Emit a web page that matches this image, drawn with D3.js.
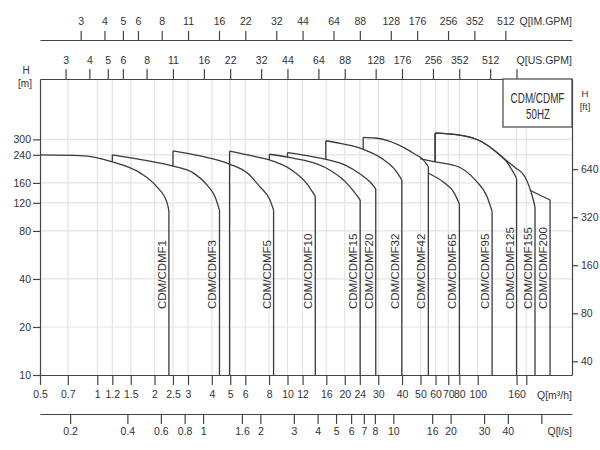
<!DOCTYPE html>
<html>
<head>
<meta charset="utf-8">
<script src="https://cdn.jsdelivr.net/npm/d3@7"></script>
<style>
  body { margin: 0; background: #fff; }
  text { fill: #333; }
</style>
</head>
<body>
<svg id="chart" width="600" height="450"></svg>
<script>
// tick values per axis
const qTicks = [0.5, 0.7, 1, 1.2, 1.5, 2, 2.5, 3, 4, 5, 6, 8, 10, 12, 16, 20, 24, 30, 40, 50, 60, 70, 80, 100, 160, 180];
const qBlank = [180];
const lsTicks = [0.2, 0.4, 0.6, 0.8, 1, 1.6, 2, 3, 4, 5, 6, 7, 8, 10, 16, 20, 30, 40, 60];
const lsBlank = [60];
const gpmTicks = [3, 4, 5, 6, 8, 11, 16, 22, 32, 44, 64, 88, 128, 176, 256, 352, 512];
const usGpmBlank = [704];
const hTicks = [10, 20, 40, 80, 120, 160, 240, 300];
const ftTicks = [40, 80, 160, 320, 640];

// pump ranges: [Q m3/h, H m] along the top curve
const pumps = ["CDM/CDMF1", "CDM/CDMF3", "CDM/CDMF5", "CDM/CDMF10", "CDM/CDMF15", "CDM/CDMF20",
  "CDM/CDMF32", "CDM/CDMF42", "CDM/CDMF65", "CDM/CDMF95", "CDM/CDMF125", "CDM/CDMF155", "CDM/CDMF200"];
const curves = [
  [[0.5, 240], [0.81, 237], [1.2, 217], [1.68, 185], [2.06, 151], [2.33, 120], [2.38, 107]],
  [[1.2, 240], [1.7, 224], [2.5, 204], [3.19, 185], [3.78, 155], [4.16, 131], [4.39, 108]],
  [[2.5, 254], [3.47, 236], [4.96, 210], [6.13, 185], [7.17, 151], [8.09, 125], [8.45, 108]],
  [[4.96, 253], [6.36, 238], [8.03, 223], [10.5, 193], [12.6, 159], [14.0, 132]],
  [[8.03, 242], [10.0, 232], [15.8, 200], [20.1, 163], [23.1, 134], [24.1, 125]],
  [[10.0, 248], [12.4, 238], [15.9, 225], [20.1, 207], [24.1, 182], [27.2, 162], [29.1, 147]],
  [[15.9, 294], [18.9, 283], [22.7, 270], [25.0, 260], [31.3, 228], [36.8, 193], [39.9, 167]],
  [[25.0, 309], [28.9, 306], [33.9, 294], [43.2, 257], [46.8, 242], [50.8, 228], [55.0, 202]],
  [[55.0, 184], [67.3, 159], [74.5, 141], [80.1, 118]],
  [[49.8, 227], [59.7, 217], [79.1, 202], [96.9, 167], [112, 131], [119, 106]],
  [[59.7, 328], [79.1, 320], [105, 290], [128, 245], [142, 217], [160, 171]],
  [[59.7, 328], [79.1, 320], [105, 290], [128, 245], [142, 220], [157, 200], [177, 175], [196, 125], [200, 113]],
  [[188, 144], [240, 125]]
];
// where the left edge of each range stops (H m)
const stepLow = [240, 217, 204, 10, 223, 232, 226, 260, 184, 227, 217, 217, 144];

const FONT = "'Liberation Sans Narrow','Arial Narrow','Liberation Sans',Arial,sans-serif";
const INK = "#444";

const svg = d3.select("#chart");
const pLeft = 40, pRight = 572, pTop = 79, pBottom = 375;

const x = d3.scaleLog().domain([0.5, 313]).range([pLeft, pRight]);
const y = d3.scaleLog().domain([10, 717]).range([pBottom, pTop]);
const xUS = d3.scaleLog().domain(x.domain().map(q => q * 4.4029)).range(x.range());
const xIM = d3.scaleLog().domain(x.domain().map(q => q * 3.6662)).range(x.range());
const xLS = d3.scaleLog().domain(x.domain().map(q => q / 3.6)).range(x.range());
const yFt = d3.scaleLog().domain(y.domain().map(h => h * 3.2808)).range(y.range());

svg.append("rect").attr("width", 600).attr("height", 450).attr("fill", "#fff");

// grid
svg.append("g").selectAll("line").data(qTicks.slice(1)).join("line")
  .attr("x1", d => x(d)).attr("x2", d => x(d))
  .attr("y1", pTop).attr("y2", pBottom)
  .attr("stroke", "#e4e4e4").attr("stroke-width", 1.2);
svg.append("g").selectAll("line").data(hTicks.slice(1)).join("line")
  .attr("x1", pLeft).attr("x2", pRight)
  .attr("y1", d => y(d)).attr("y2", d => y(d))
  .attr("stroke", "#e4e4e4").attr("stroke-width", 1.2);

// pump ranges
const line = d3.line().x(d => x(d[0])).y(d => y(d[1])).curve(d3.curveMonotoneX);
const g = svg.append("g").attr("fill", "none").attr("stroke", "#3a3a3a").attr("stroke-width", 1.3);
curves.forEach((c, i) => {
  const first = c[0], last = c[c.length - 1];
  g.append("path").attr("d", line(c));
  if (stepLow[i] < first[1]) {
    g.append("line").attr("x1", x(first[0])).attr("x2", x(first[0]))
      .attr("y1", y(first[1])).attr("y2", y(stepLow[i]));
  }
  g.append("line").attr("x1", x(last[0])).attr("x2", x(last[0]))
    .attr("y1", y(last[1])).attr("y2", y(10));
  svg.append("text")
    .attr("transform", `translate(${x(last[0]) - 3},309) rotate(-90)`)
    .attr("font-family", FONT).attr("font-size", 11.5)
    .text(pumps[i]);
});

// axes
function style(sel) {
  sel.attr("font-family", FONT).attr("font-size", 10.5);
  sel.selectAll("path, line").attr("stroke", INK).attr("stroke-width", 1.2);
  sel.selectAll("text").attr("fill", "#333");
}
const fmt = blank => d => blank.includes(d) ? "" : d;

svg.append("g").attr("transform", `translate(0,40)`)
  .call(d3.axisTop(xIM).tickValues(gpmTicks).tickFormat(fmt([])).tickSize(9).tickPadding(6).tickSizeOuter(0))
  .call(style);
svg.append("g").attr("transform", `translate(0,${pTop})`)
  .call(d3.axisTop(xUS).tickValues(gpmTicks.concat(usGpmBlank)).tickFormat(fmt(usGpmBlank)).tickSize(10).tickPadding(5).tickSizeOuter(0))
  .call(style);
svg.append("g").attr("transform", `translate(0,${pBottom})`)
  .call(d3.axisBottom(x).tickValues(qTicks).tickFormat(fmt(qBlank)).tickSize(10).tickPadding(6).tickSizeOuter(0))
  .call(style);
svg.append("g").attr("transform", `translate(0,414)`)
  .call(d3.axisBottom(xLS).tickValues(lsTicks).tickFormat(fmt(lsBlank)).tickSize(10).tickPadding(4).tickSizeOuter(0))
  .call(style);
svg.append("g").attr("transform", `translate(${pLeft},0)`)
  .call(d3.axisLeft(y).tickValues(hTicks).tickFormat(d => d).tickSize(7).tickPadding(2).tickSizeOuter(0))
  .call(style);
svg.append("g").attr("transform", `translate(${pRight},0)`)
  .call(d3.axisRight(yFt).tickValues(ftTicks).tickFormat(d => d).tickSize(6).tickPadding(3).tickSizeOuter(0))
  .call(style);

// axis titles
const titles = [
  ["Q[IM.GPM]", 572, 25, "end", 10.5], ["Q[US.GPM]", 572, 64, "end", 10.5],
  ["Q[m³/h]", 572, 399, "end", 10.5], ["Q[l/s]", 572, 435, "end", 10.5],
  ["H", 26, 74, "middle", 10], ["[m]", 25, 87, "middle", 10],
  ["H", 585, 97, "middle", 9.5], ["[ft]", 585, 110, "middle", 9.5]
];
svg.append("g").selectAll("text").data(titles).join("text")
  .attr("x", d => d[1]).attr("y", d => d[2]).attr("text-anchor", d => d[3])
  .attr("font-family", FONT).attr("font-size", d => d[4])
  .text(d => d[0]);

// legend box
svg.append("rect").attr("x", 503).attr("y", pTop).attr("width", pRight - 503).attr("height", 48)
  .attr("fill", "#fff").attr("stroke", INK).attr("stroke-width", 1.2);
svg.append("text").attr("transform", "translate(537.5,103) scale(0.66,1)").attr("text-anchor", "middle")
  .attr("font-family", FONT).attr("font-size", 15).text("CDM/CDMF");
svg.append("text").attr("transform", "translate(538,119) scale(0.65,1)").attr("text-anchor", "middle")
  .attr("font-family", FONT).attr("font-size", 15).text("50HZ");
</script>
</body>
</html>
